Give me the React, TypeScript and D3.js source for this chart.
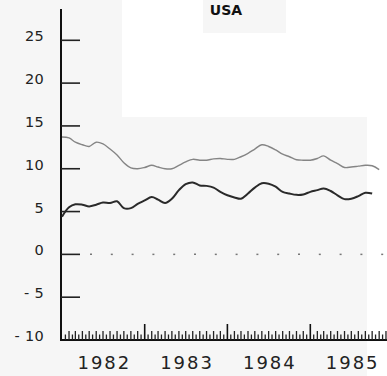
import React from "react";
import * as d3 from "d3";

const W = 387;
const H = 376;

const title = "USA";
const startYear = 1982;
const yearLabels = ["1982", "1983", "1984", "1985"];
const yTicks = [-10, -5, 0, 5, 10, 15, 20, 25];

// monthly values from Jan 1982
const upperSeries = [
  13.7, 13.6, 13.1, 12.8, 12.6, 13.1, 12.9, 12.3, 11.6, 10.7, 10.1, 10.0,
  10.15, 10.4, 10.2, 10.0, 10.0, 10.4, 10.8, 11.1, 11.0, 11.0, 11.15, 11.2,
  11.1, 11.1, 11.4, 11.8, 12.3, 12.8, 12.6, 12.2, 11.7, 11.4, 11.05, 11.0,
  11.0, 11.2, 11.5, 11.0, 10.6, 10.15, 10.2, 10.3, 10.4, 10.35, 9.9,
];
const lowerSeries = [
  4.4, 5.5, 5.85, 5.8, 5.6, 5.8, 6.05, 6.0, 6.2, 5.4, 5.4, 5.9,
  6.3, 6.7, 6.4, 6.0, 6.5, 7.5, 8.2, 8.4, 8.05, 8.0, 7.8, 7.3,
  6.9, 6.65, 6.5, 7.1, 7.8, 8.3, 8.25, 7.9, 7.3, 7.1, 6.95, 7.0,
  7.3, 7.5, 7.7, 7.4, 6.9, 6.45, 6.5, 6.8, 7.2, 7.1,
];

const monthDate = (i: number) => new Date(startYear, i, 1);

export default function App() {
  const x = d3
    .scaleTime()
    .domain([new Date(1982, 0, 1), new Date(1986, 0, 1)])
    .range([62, 393]);
  const y = d3.scaleLinear().domain([-10, 25]).range([340, 40.3]);

  const axisX = 61;
  const axisY = 340;

  const line = d3
    .line<number>()
    .x((_, i) => x(monthDate(i)))
    .y((d) => y(d))
    .curve(d3.curveCatmullRom.alpha(0.5));

  const months = d3.timeMonth.range(new Date(1982, 1, 1), new Date(1986, 0, 1));
  const mids = d3.timeMonth
    .range(new Date(1982, 0, 1), new Date(1986, 0, 1))
    .map((d) => d3.timeDay.offset(d, 15));
  const years = d3.timeYear.range(new Date(1983, 0, 1), new Date(1986, 0, 1));

  const dots: number[] = [];
  for (let px = 90; px < W; px += 20.8) dots.push(px);

  const fmtY = (v: number) => (v < 0 ? "- " + Math.abs(v) : String(v));

  return (
    <svg
      width={W}
      height={H}
      style={{ position: "absolute", left: 0, top: 0, background: "#f6f6f6" }}
    >
      <rect x={122} y={0} width={W - 122} height={117} fill="#ffffff" />
      <rect x={203} y={0} width={83} height={33} fill="#f6f6f6" />
      <rect x={367} y={117} width={20} height={259} fill="#ffffff" />

      <text
        x={226}
        y={15}
        textAnchor="middle"
        fontFamily="DejaVu Sans, sans-serif"
        fontWeight="bold"
        fontSize={14}
        fill="#111"
      >
        {title}
      </text>

      {/* y axis */}
      <line x1={axisX} x2={axisX} y1={9} y2={axisY + 1} stroke="#111" strokeWidth={2} />
      {yTicks.map((t) => (
        <g key={t}>
          {t !== -10 && (
            <line x1={axisX} x2={80} y1={y(t)} y2={y(t)} stroke="#222" strokeWidth={1.6} />
          )}
          <text
            x={44}
            y={y(t) + 1}
            textAnchor="end"
            fontFamily="DejaVu Sans, sans-serif"
            fontSize={14.5}
            letterSpacing={0.3}
            fill="#222"
          >
            {fmtY(t)}
          </text>
        </g>
      ))}

      {/* zero dotted line */}
      {dots.map((px, i) => (
        <line
          key={i}
          x1={px}
          x2={px + 2}
          y1={y(0)}
          y2={y(0)}
          stroke="#777"
          strokeWidth={1.5}
        />
      ))}

      {/* x axis */}
      <line x1={axisX} x2={W} y1={axisY} y2={axisY} stroke="#111" strokeWidth={2} />
      {mids.map((d, i) => (
        <line
          key={"m" + i}
          x1={x(d)}
          x2={x(d)}
          y1={axisY}
          y2={axisY - 5.5}
          stroke="#222"
          strokeWidth={1.3}
        />
      ))}
      {months
        .filter((d) => d.getMonth() !== 0)
        .map((d, i) => (
          <line
            key={"mo" + i}
            x1={x(d)}
            x2={x(d)}
            y1={axisY}
            y2={axisY - 9}
            stroke="#222"
            strokeWidth={1.3}
          />
        ))}
      {years.map((d, i) => (
        <line
          key={"y" + i}
          x1={x(d)}
          x2={x(d)}
          y1={axisY}
          y2={axisY - 16}
          stroke="#111"
          strokeWidth={1.6}
        />
      ))}
      {yearLabels.map((lab, i) => {
        const cx = (x(new Date(startYear + i, 0, 1)) + x(new Date(startYear + i + 1, 0, 1))) / 2;
        return (
          <text
            key={lab}
            x={cx + 1}
            y={369}
            textAnchor="middle"
            fontFamily="DejaVu Sans, sans-serif"
            fontSize={18}
            letterSpacing={2}
            fill="#222"
          >
            {lab}
          </text>
        );
      })}

      {/* series */}
      <path d={line(upperSeries) || ""} fill="none" stroke="#858585" strokeWidth={1.4} />
      <path d={line(lowerSeries) || ""} fill="none" stroke="#2a2a2a" strokeWidth={2} />
    </svg>
  );
}
